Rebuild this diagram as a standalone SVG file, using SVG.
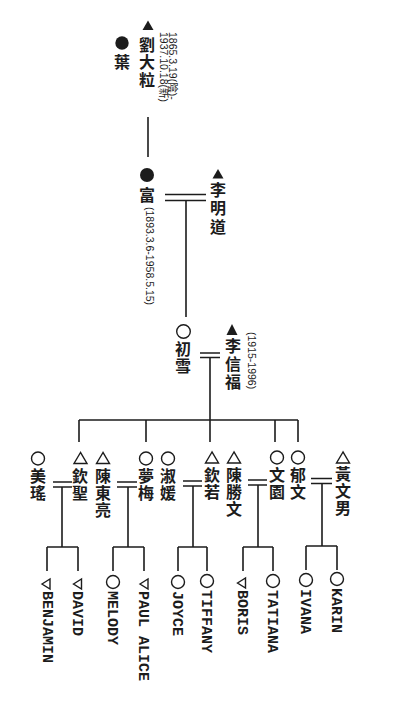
<svg xmlns="http://www.w3.org/2000/svg" width="400" height="708" viewBox="0 0 400 708">
<style>
.cjk{font-family:"Noto Sans CJK TC","Noto Sans CJK SC",sans-serif;font-size:16px;fill:#1c1c1c;font-weight:bold;writing-mode:vertical-rl;text-anchor:start;letter-spacing:1px}
.en{font-family:"Liberation Mono",monospace;font-size:15px;font-weight:bold;fill:#1c1c1c}
.dt{font-family:"Liberation Sans","Noto Sans CJK TC",sans-serif;font-size:10.5px;fill:#1c1c1c}
.ln{stroke:#1c1c1c;stroke-width:1.6;fill:none}
.f{fill:#1c1c1c}
.o{fill:none;stroke:#1c1c1c;stroke-width:1.4}
</style>
<rect width="400" height="708" fill="#ffffff"/>

<g id="connectors" class="ln">
  <path d="M148 117V157"/>
  <path d="M165 194.5H206M165 200.5H206M186 200.5V317"/>
  <path d="M200 353H220M200 357.5H220M210 357.5V442"/>
  <path d="M79 420H298M79 420V442M146 420V442M275 420V442M298 420V442"/>
  <path d="M53 482H72M53 487H72M62 487V547M47 547H78M47 547V571M78 547V571"/>
  <path d="M117 482H137M117 487H137M128 487V547M113 547H144M113 547V571M144 547V571"/>
  <path d="M183 481H202M183 486H202M193 486V547M178 547H207M178 547V571M207 547V571"/>
  <path d="M248 480H267M248 485H267M258 485V547M243 547H273M243 547V571M273 547V571"/>
  <path d="M311 478.5H332M311 483.5H332M322 483.5V546M306 546H337M306 546V570M337 546V570"/>
</g>

<g id="liu-dali">
  <polygon class="f" points="148,20.5 142.5,30 153.5,30"/>
  <text class="cjk" x="147" y="36.5" style="letter-spacing:1.5px">劉大粒</text>
  <text class="dt" font-size="10.2" transform="translate(173,32) rotate(90)" y="3.6">1865.3.19(陰)-</text>
  <text class="dt" font-size="10" transform="translate(164,32) rotate(90)" y="3.6">1937.10.18(新)</text>
</g>
<g id="ye">
  <circle class="f" cx="122" cy="43" r="6.7"/>
  <text class="cjk" x="122" y="54">葉</text>
</g>

<g id="fu">
  <circle class="f" cx="147" cy="175" r="7"/>
  <text class="cjk" x="147" y="187">富</text>
  <text class="dt" transform="translate(150,207) rotate(90)" y="3.8">(1893.3.6-1958.5.15)</text>
</g>
<g id="li-mingdao">
  <polygon class="f" points="218,169 212.5,178.5 223.5,178.5"/>
  <text class="cjk" x="218" y="181.5" style="letter-spacing:2.5px">李明道</text>
</g>

<g id="chuxue">
  <circle class="o" cx="183.5" cy="331.5" r="6.8"/>
  <text class="cjk" x="183" y="341">初雪</text>
</g>
<g id="li-xinfu">
  <polygon class="f" points="232,324 226.5,335 237.5,335"/>
  <text class="cjk" x="233" y="338" style="letter-spacing:2px">李信福</text>
  <text class="dt" font-size="11" transform="translate(252,332) rotate(90)" y="4">(1915-1996)</text>
</g>

<g id="meiyao">
  <circle class="o" cx="38" cy="458.5" r="6.5"/>
  <text class="cjk" x="38" y="468">美瑤</text>
</g>
<g id="qinsheng">
  <polygon class="o" points="80.5,452.5 74,463.5 87,463.5"/>
  <text class="cjk" x="80" y="468">欽聖</text>
</g>
<g id="chen-dongliang">
  <polygon class="o" points="103,452.5 96.5,463.5 109.5,463.5"/>
  <text class="cjk" x="103" y="468">陳東亮</text>
</g>
<g id="mengmei">
  <circle class="o" cx="146" cy="458.5" r="6.5"/>
  <text class="cjk" x="146" y="468">夢梅</text>
</g>
<g id="shuyuan">
  <circle class="o" cx="168" cy="458.5" r="6.5"/>
  <text class="cjk" x="168" y="468">淑媛</text>
</g>
<g id="qinruo">
  <polygon class="o" points="212,452 205.5,463 218.5,463"/>
  <text class="cjk" x="212" y="467">欽若</text>
</g>
<g id="chen-shengwen">
  <polygon class="o" points="234,452 227.5,463 240.5,463"/>
  <text class="cjk" x="234" y="467">陳勝文</text>
</g>
<g id="wenyuan">
  <circle class="o" cx="277" cy="457.5" r="6.5"/>
  <text class="cjk" x="277" y="467">文園</text>
</g>
<g id="yuwen">
  <circle class="o" cx="298" cy="457.5" r="6.5"/>
  <text class="cjk" x="298" y="467">郁文</text>
</g>
<g id="huang-wennan">
  <polygon class="o" points="343,452 336.5,463 349.5,463"/>
  <text class="cjk" x="343" y="466">黃文男</text>
</g>

<g id="benjamin">
  <polygon class="o" points="42,584 50,579 50,589"/>
  <text class="en" transform="translate(48,591) rotate(90)" y="5">BENJAMIN</text>
</g>
<g id="david">
  <polygon class="o" points="73.5,584 81.5,579 81.5,589"/>
  <text class="en" transform="translate(78,591) rotate(90)" y="5">DAVID</text>
</g>
<g id="melody">
  <circle class="o" cx="113" cy="582" r="6.5"/>
  <text class="en" transform="translate(113,591) rotate(90)" y="5">MELODY</text>
</g>
<g id="paul-alice">
  <polygon class="o" points="140,584 148,579 148,589"/>
  <text class="en" transform="translate(144,591) rotate(90)" y="5">PAUL ALICE</text>
</g>
<g id="joyce">
  <circle class="o" cx="178" cy="582" r="6.5"/>
  <text class="en" transform="translate(178,591) rotate(90)" y="5">JOYCE</text>
</g>
<g id="tiffany">
  <circle class="o" cx="207" cy="581" r="6.5"/>
  <text class="en" transform="translate(207,590) rotate(90)" y="5">TIFFANY</text>
</g>
<g id="boris">
  <polygon class="o" points="237.5,583 245.5,578 245.5,588"/>
  <text class="en" transform="translate(243,590) rotate(90)" y="5">BORIS</text>
</g>
<g id="tatiana">
  <circle class="o" cx="273" cy="581" r="6.5"/>
  <text class="en" transform="translate(273,590) rotate(90)" y="5">TATIANA</text>
</g>
<g id="ivana">
  <circle class="o" cx="306" cy="580" r="6.5"/>
  <text class="en" transform="translate(306,589) rotate(90)" y="5">IVANA</text>
</g>
<g id="karin">
  <circle class="o" cx="337" cy="579" r="6.5"/>
  <text class="en" transform="translate(337,588) rotate(90)" y="5">KARIN</text>
</g>
</svg>
